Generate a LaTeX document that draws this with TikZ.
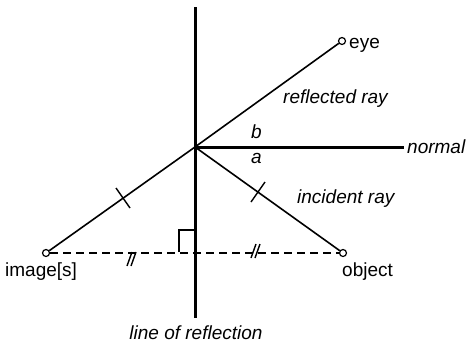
\documentclass[tikz,border=0pt]{standalone}
\usepackage{fontspec}
\setmainfont{Liberation Sans}
\begin{document}
\begin{tikzpicture}[x=1pt,y=-1pt,
  lbl/.style={font=\fontsize{19}{21}\selectfont, inner sep=0pt, anchor=base west},
  ilbl/.style={lbl, font=\fontsize{19}{21}\selectfont\itshape},
  ray/.style={line width=1.6pt},
  heavy/.style={line width=3pt},
  pt/.style={circle, draw, line width=1.2pt, fill=white, minimum size=7pt, inner sep=0pt},
  tick/.style={line width=1.4pt},
  dashline/.style={line width=1.8pt, dash pattern=on 8pt off 5pt}]
\useasboundingbox (0,0) rectangle (468,346);
% key points
\coordinate (top) at (195,7);
\coordinate (bot) at (195,318);
\coordinate (P) at (195,147);
\coordinate (nend) at (404,147);
\node[pt] (eye) at (342,41) {};
\node[pt] (img) at (46,253) {};
\node[pt] (obj) at (343,253) {};
% dashed line and right angle
\draw[dashline] (img) -- (obj);
\coordinate (ra1) at (179,252);
\coordinate (ra2) at (179,230);
\coordinate (ra3) at (195,230);
\draw[line width=1.6pt] (ra1) -- (ra2) -- (ra3);
% rays
\draw[ray] (img) -- (P);
\draw[ray] (P) -- (eye);
\draw[ray] (P) -- (obj);
% mirror and normal
\draw[heavy] (top) -- (bot);
\draw[heavy] (P) -- (nend);
% single ticks
\coordinate (t1a) at (116,188);
\coordinate (t1b) at (130,208);
\draw[tick] (t1a) -- (t1b);
\coordinate (t2a) at (265,182);
\coordinate (t2b) at (251,202);
\draw[tick] (t2a) -- (t2b);
% double ticks
\coordinate (d1a) at (127,266);
\coordinate (d1b) at (132,252);
\coordinate (d1c) at (131,266);
\coordinate (d1d) at (136,252);
\draw[tick] (d1a) -- (d1b) (d1c) -- (d1d);
\coordinate (d2a) at (251,258);
\coordinate (d2b) at (256,244);
\coordinate (d2c) at (255,258);
\coordinate (d2d) at (260,244);
\draw[tick] (d2a) -- (d2b) (d2c) -- (d2d);
% labels
\node[lbl] (leye) at (349,48) {eye};
\node[ilbl] (lrefl) at (283,103) {reflected ray};
\node[ilbl] (lb) at (251,138) {b};
\node[ilbl] (la) at (251,163) {a};
\node[ilbl] (lnorm) at (407,153) {normal};
\node[ilbl] (linc) at (297,203) {incident ray};
\node[lbl] (limg) at (5,276) {image[s]};
\node[lbl] (lobj) at (342,276) {object};
\node[ilbl, anchor=base] (lline) at (196,339) {line of reflection};
\end{tikzpicture}
\end{document}
